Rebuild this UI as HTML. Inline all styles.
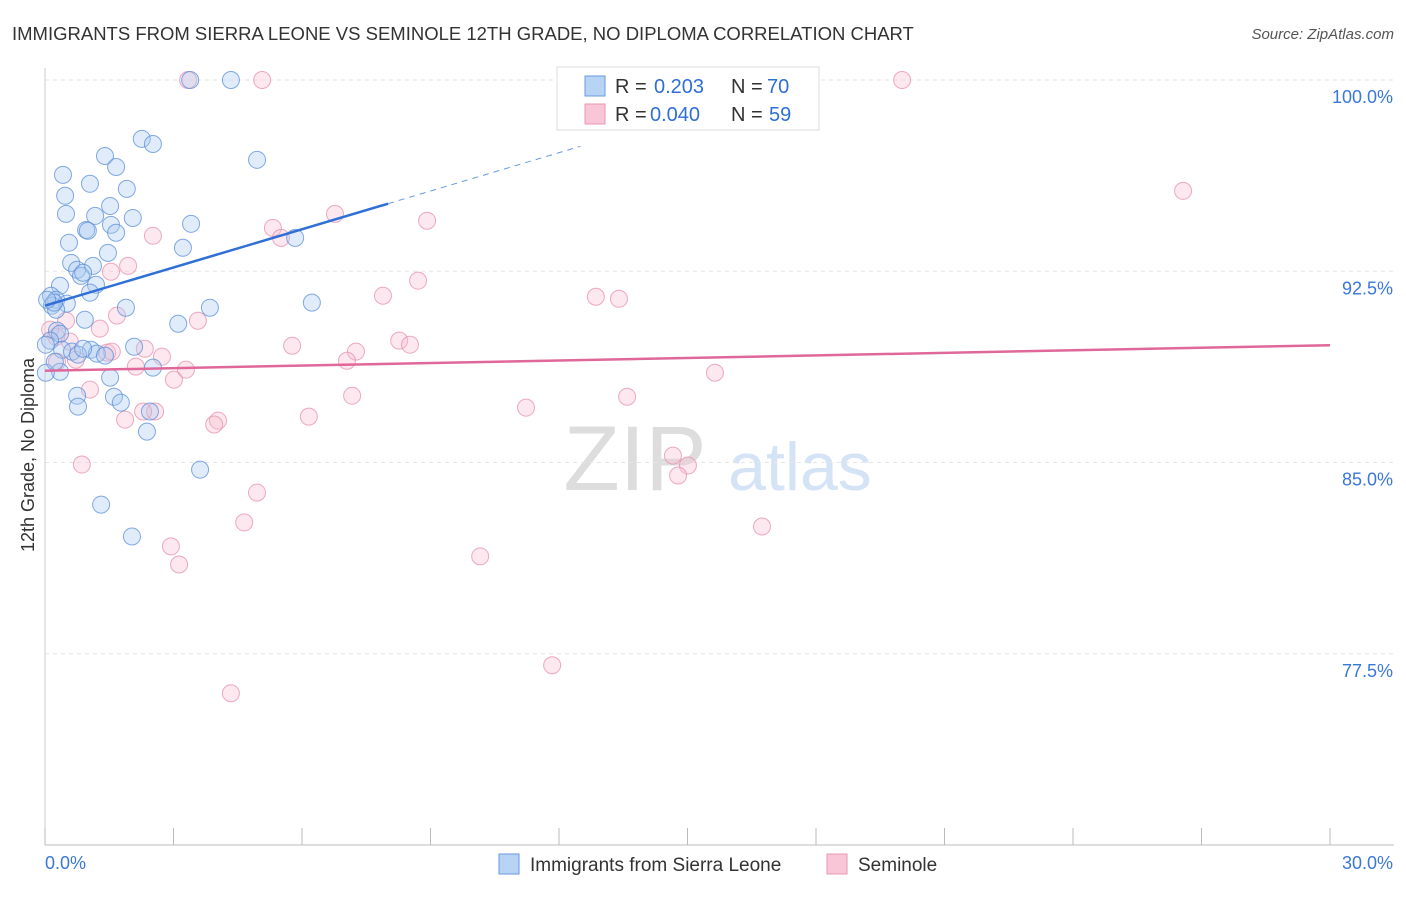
<!DOCTYPE html>
<html><head><meta charset="utf-8"><style>
body{margin:0;background:#fff;font-family:"Liberation Sans",sans-serif;}
svg text{font-family:"Liberation Sans",sans-serif;}
</style></head><body>
<svg id="c" width="1406" height="892" xmlns="http://www.w3.org/2000/svg">
<text x="12" y="40" font-size="18.5" fill="#333">IMMIGRANTS FROM SIERRA LEONE VS SEMINOLE 12TH GRADE, NO DIPLOMA CORRELATION CHART</text>
<text x="1394" y="39" font-size="15" fill="#555" font-style="italic" text-anchor="end">Source: ZipAtlas.com</text>
<text transform="translate(34,455) rotate(-90)" font-size="18" fill="#333" text-anchor="middle">12th Grade, No Diploma</text>
<g><text x="635" y="490" font-size="92" fill="#ddd" font-family="Liberation Serif" text-anchor="middle">ZIP</text><text x="800" y="490" font-size="68" fill="#d4e3f5" text-anchor="middle">atlas</text></g>
<g id="grid"></g><g id="axes"></g><g id="marks"></g>
<g>
<rect x="557" y="67" width="262" height="63" fill="#fff" stroke="#ddd"/>
<rect x="585" y="76" width="20" height="20" fill="#b8d4f5" stroke="#6a9ae0"/>
<rect x="585" y="104" width="20" height="20" fill="#f8c6d6" stroke="#e897b2"/>
<text x="615" y="93" font-size="20" fill="#333">R =</text><text x="654" y="93" font-size="20" fill="#2f6fd6">0.203</text>
<text x="731" y="93" font-size="20" fill="#333">N =</text><text x="767" y="93" font-size="20" fill="#2f6fd6">70</text>
<text x="615" y="121" font-size="20" fill="#333">R =</text><text x="650" y="121" font-size="20" fill="#2f6fd6">0.040</text>
<text x="731" y="121" font-size="20" fill="#333">N =</text><text x="769" y="121" font-size="20" fill="#2f6fd6">59</text>
</g>
<g>
<rect x="499" y="854" width="20" height="20" fill="#b8d4f5" stroke="#6a9ae0"/>
<text x="530" y="871" font-size="19" fill="#333">Immigrants from Sierra Leone</text>
<rect x="827" y="854" width="20" height="20" fill="#f8c6d6" stroke="#e897b2"/>
<text x="858" y="871" font-size="19" fill="#333">Seminole</text>
</g>
</svg>
<script>
const blueX=[3.39,4.34,2.26,2.52,4.95,1.40,1.66,0.42,1.91,1.05,0.47,1.52,0.49,1.17,2.05,3.41,1.54,0.96,1.66,1.00,5.84,0.56,3.22,1.47,0.61,1.12,0.75,0.84,0.89,1.19,0.35,1.05,0.14,0.26,0.51,1.89,3.85,6.23,0.16,0.26,0.93,3.11,0.28,0.35,0.12,0.02,2.08,0.40,1.07,0.63,0.77,1.21,2.52,0.35,0.02,1.52,0.75,1.61,1.77,0.77,2.45,2.38,3.62,1.31,2.03,0.23,0.89,1.40,0.21,0.05];
const blueY=[100,100,97.69,97.49,96.87,97.02,96.59,96.28,95.73,95.93,95.46,95.06,94.75,94.67,94.59,94.36,94.32,94.12,94.01,94.09,93.81,93.62,93.42,93.22,92.83,92.71,92.56,92.32,92.44,91.97,91.93,91.66,91.54,91.38,91.23,91.07,91.07,91.27,91.15,90.99,90.60,90.44,90.17,90.05,89.78,89.62,89.54,89.42,89.42,89.35,89.23,89.27,88.72,88.56,88.52,88.33,87.62,87.58,87.35,87.19,87.00,86.21,84.72,83.35,82.10,88.95,89.46,89.19,91.27,91.38];
const pinkX=[3.34,5.07,20.01,26.57,6.77,8.92,5.32,5.51,2.52,1.94,1.54,8.71,7.89,12.86,13.40,1.68,3.57,0.49,1.28,0.26,5.77,2.33,8.27,8.52,7.26,2.73,7.05,1.45,0.28,2.12,3.29,0.72,3.01,15.64,1.05,7.17,13.59,11.23,2.57,2.29,1.87,6.16,4.04,3.95,0.86,14.66,15.01,14.78,4.95,4.65,16.74,2.94,3.13,10.16,11.84,4.34,0.58,1.56,0.12];
const pinkY=[100,100,100,95.65,94.75,94.48,94.20,93.81,93.89,92.71,92.48,92.13,91.54,91.50,91.42,90.76,90.56,90.56,90.25,89.93,89.58,89.46,89.78,89.62,89.35,89.15,88.99,89.31,88.95,88.76,88.64,89.03,88.25,88.52,87.86,87.62,87.58,87.15,87.00,87.00,86.68,86.80,86.64,86.49,84.92,85.27,84.88,84.49,83.82,82.65,82.49,81.71,81.00,81.32,77.05,75.95,89.74,89.35,90.21];
const blueTrend=[[0,91.15],[8.01,95.15],[12.5,97.4]];
const pinkTrend=[[0,88.6],[30,89.6]];
const yTicks=[100,92.5,85,77.5];
const yTickLabels=["100.0%","92.5%","85.0%","77.5%"];
const xTickVals=[0,3,6,9,12,15,18,21,24,27,30];
const NS="http://www.w3.org/2000/svg";
const X=v=>45+v*(1285/30), Y=v=>80+(100-v)*(765/30);
function mk(t,a,p){const e=document.createElementNS(NS,t);for(const k in a)e.setAttribute(k,a[k]);p.appendChild(e);return e;}
const grid=document.getElementById('grid'),axes=document.getElementById('axes'),marks=document.getElementById('marks');
yTicks.forEach((v,i)=>{
 const l=mk('line',{x1:45,x2:1394,y1:Y(v),y2:Y(v),stroke:'#e6e6e6','stroke-dasharray':'4,4'},grid);
 
 
 const t=mk('text',{x:1393,y:Y(v)+23,'font-size':18,fill:'#3a78d8','text-anchor':'end'},axes);
 t.textContent=yTickLabels[i];
 
 
});
const ax=mk('line',{x1:45,x2:1394,y1:845,y2:845,stroke:'#bbb'},axes);


const ay=mk('line',{x1:45,x2:45,y1:68,y2:845,stroke:'#ccc'},axes);


xTickVals.forEach(v=>{const t=mk('line',{x1:X(v),x2:X(v),y1:828,y2:845,stroke:'#bbb'},axes);
 
 });
[[0,'0.0%','start',45],[30,'30.0%','end',1393]].forEach(d=>{const t=mk('text',{x:d[3],y:869,'font-size':18,fill:'#3a78d8','text-anchor':d[2]},axes);t.textContent=d[1];
 
 });
function pts(xs,ys,fill,stroke,name){xs.forEach((x,i)=>{const c=mk('circle',{cx:X(x),cy:Y(ys[i]),r:8.5,fill:fill,'fill-opacity':0.35,stroke:stroke,'stroke-width':1,'stroke-opacity':0.75},marks);
 
 });}
pts(pinkX,pinkY,'#f5bccd','#e58fae','seminole-point');
pts(blueX,blueY,'#a9c9f2','#5a8ed8','sierra-leone-point');
const b1=mk('line',{x1:X(blueTrend[0][0]),y1:Y(blueTrend[0][1]),x2:X(blueTrend[1][0]),y2:Y(blueTrend[1][1]),stroke:'#2f6fd6','stroke-width':2.5},marks);


const b2=mk('line',{x1:X(blueTrend[1][0]),y1:Y(blueTrend[1][1]),x2:X(blueTrend[2][0]),y2:Y(blueTrend[2][1]),stroke:'#6a9ae0','stroke-width':1,'stroke-dasharray':'6,5'},marks);


const p1=mk('line',{x1:X(pinkTrend[0][0]),y1:Y(pinkTrend[0][1]),x2:X(pinkTrend[1][0]),y2:Y(pinkTrend[1][1]),stroke:'#e0679a','stroke-width':2.5},marks);


</script>
</body></html>
